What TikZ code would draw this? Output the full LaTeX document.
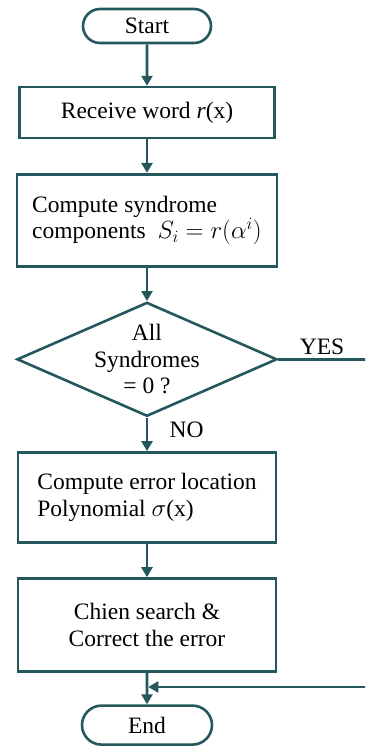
\documentclass[tikz,border=0pt]{standalone}
\usepackage{fontspec}
\setmainfont{Liberation Serif}
\usetikzlibrary{shapes.geometric, shapes.misc, arrows.meta, positioning, calc}
\definecolor{darkteal}{RGB}{36, 88, 92}
\tikzset{
    terminal/.style = {rounded rectangle, draw=darkteal, line width=2.6pt, minimum width=128pt, minimum height=34pt, inner sep=0pt},
    box/.style = {rectangle, draw=darkteal, line width=2.6pt, minimum width=258pt, align=left, inner sep=0pt},
    decision/.style = {diamond, draw=darkteal, line width=2.6pt, minimum width=260pt, minimum height=114pt, aspect=2.26, align=center, inner sep=-30pt},
    arrow/.style = {draw=darkteal, line width=2.6pt, -{Triangle[length=10pt, width=11pt]}},
    line/.style = {draw=darkteal, line width=2.6pt}
}

\begin{document}
\begin{tikzpicture}[x=1pt, y=1pt, node distance=33.5pt, font=\fontsize{23.5}{26.5}\selectfont]
\useasboundingbox (0,0) rectangle (365,-748);
\clip (0,0) rectangle (365,-748);
\node (start) [terminal] at (147,-26) {Start};
\node (recv) [box, minimum width=255pt, minimum height=51pt, below=41.5pt of start] {Receive word \textit{r}(x)};
\node (syn) [box, minimum width=260pt, minimum height=92pt, below=of recv] {Compute syndrome\\ components\ \ $S_i = r(\alpha^i)$};
\node (test) [decision, below=of syn] {All\\ Syndromes\\ = 0 ?};
\node (loc) [box, minimum height=90pt, below=of test] {Compute error location\\ Polynomial $\sigma$(x)};
\node (chien) [box, align=center, minimum height=93pt, below=of loc] {Chien search \&\\ Correct the error};
\node (finish) [terminal, minimum width=130pt, minimum height=39pt, below=31.5pt of chien] {End};

\coordinate (join) at ($(chien.south)!0.45!(finish.north)$);
\coordinate (outer) at ($(test.east)+(115,0)$);

\draw [arrow] (start) -- (recv);
\draw [arrow] (recv) -- (syn);
\draw [arrow] (syn) -- (test);
\draw [arrow] (test) -- node[right, pos=0.36, xshift=18pt] {NO} (loc);
\draw [arrow] (loc) -- (chien);
\draw [arrow] (chien) -- (finish);
\draw [arrow, shorten >=1.3pt] (test.east) -- node[above, pos=0.38] {YES} (outer) |- (join);
\end{tikzpicture}
\end{document}
